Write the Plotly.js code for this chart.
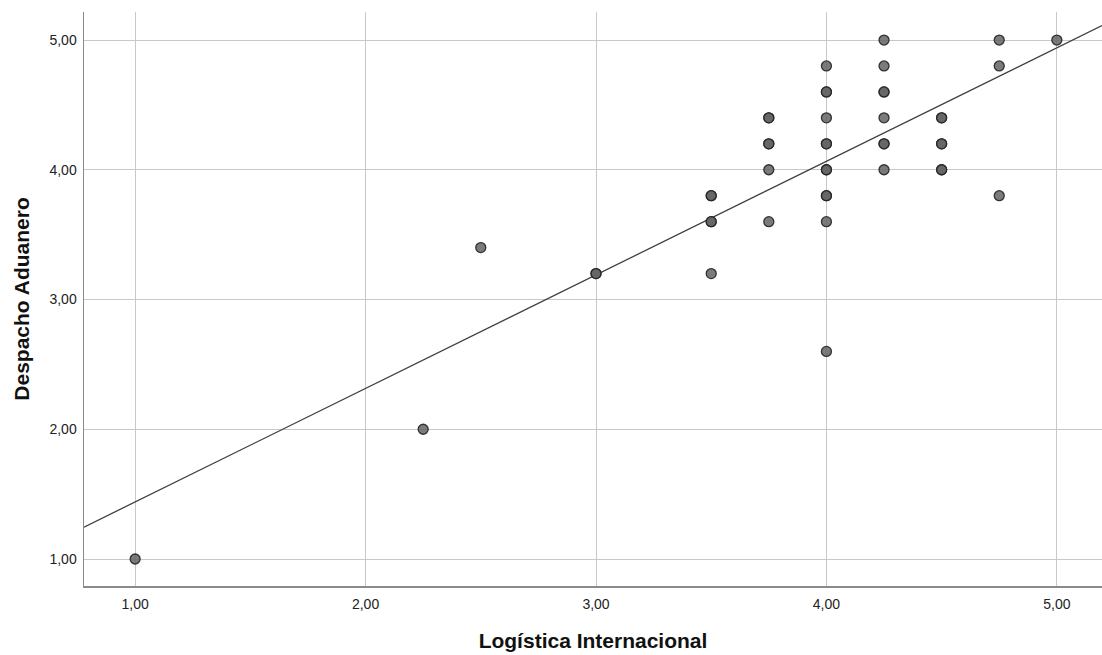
<!DOCTYPE html>
<html><head><meta charset="utf-8">
<script src="https://cdn.plot.ly/plotly-3.0.1.min.js"></script>
<style>html,body{margin:0;padding:0;background:#fff}#chart{width:1102px;height:655px}</style>
</head><body><div id="chart"></div>
<script>
// Data (duplicates = darker overlapping points)
const logistica = [1.00, 2.25, 2.50, 3.00, 3.00, 3.50, 3.50, 3.50, 3.50, 3.50,
  3.75, 3.75, 3.75, 3.75, 3.75, 3.75, 4.00, 4.00, 4.00, 4.00, 4.00, 4.00, 4.00, 4.00,
  4.00, 4.00, 4.00, 4.00, 4.25, 4.25, 4.25, 4.25, 4.25, 4.25, 4.25, 4.25,
  4.50, 4.50, 4.50, 4.50, 4.50, 4.50, 4.75, 4.75, 4.75, 5.00];
const despacho = [1.00, 2.00, 3.40, 3.20, 3.20, 3.20, 3.60, 3.60, 3.80, 3.80,
  3.60, 4.00, 4.20, 4.20, 4.40, 4.40, 2.60, 3.60, 3.80, 3.80, 4.00, 4.00, 4.20, 4.20,
  4.40, 4.60, 4.60, 4.80, 4.00, 4.20, 4.20, 4.40, 4.60, 4.60, 4.80, 5.00,
  4.00, 4.00, 4.20, 4.20, 4.40, 4.40, 3.80, 4.80, 5.00, 5.00];
const fitIntercept = 0.565;
const fitSlope = 0.875;
const xRange = [0.778, 5.196];
const yRange = [0.792, 5.216];
const tickValues = [1, 2, 3, 4, 5];
const tickLabels = ["1,00", "2,00", "3,00", "4,00", "5,00"];

const fitX = xRange.slice();
const fitY = fitX.map(x => fitIntercept + fitSlope * x);

const traces = [
  {x: fitX, y: fitY, type: 'scatter', mode: 'lines',
   line: {color: '#404040', width: 1.3}, hoverinfo: 'skip', cliponaxis: true},
  {x: logistica, y: despacho, type: 'scatter', mode: 'markers',
   marker: {size: 10, color: 'rgba(100,100,100,0.85)', line: {color: 'rgba(35,35,35,0.9)', width: 1.3}}}
];

const fam = 'Arial, Liberation Sans, sans-serif';
const axisFont = {family: fam, size: 14, color: '#222'};
const titleFont = {family: fam, size: 21, color: '#111', weight: 'bold'};
const layout = {
  width: 1102, height: 655,
  margin: {l: 84, r: 0, t: 12, b: 69},
  paper_bgcolor: '#fff', plot_bgcolor: '#fff',
  showlegend: false,
  xaxis: {
    range: xRange, tickvals: tickValues, ticktext: tickLabels,
    showgrid: true, gridcolor: '#c8c8c8', gridwidth: 1,
    zeroline: false, showline: true, linecolor: '#8a8a8a', linewidth: 1.5,
    ticks: '', ticklabelstandoff: 5, tickfont: axisFont,
    title: {text: 'Logística Internacional', standoff: 22, font: titleFont}
  },
  yaxis: {
    range: yRange, tickvals: tickValues, ticktext: tickLabels,
    showgrid: true, gridcolor: '#c8c8c8', gridwidth: 1,
    zeroline: false, showline: true, linecolor: '#8a8a8a', linewidth: 1.5,
    ticks: '', ticklabelstandoff: 3, tickfont: axisFont,
    title: {text: 'Despacho Aduanero', standoff: 14, font: titleFont}
  }
};
Plotly.newPlot('chart', traces, layout, {displayModeBar: false, staticPlot: true});
</script></body></html>
